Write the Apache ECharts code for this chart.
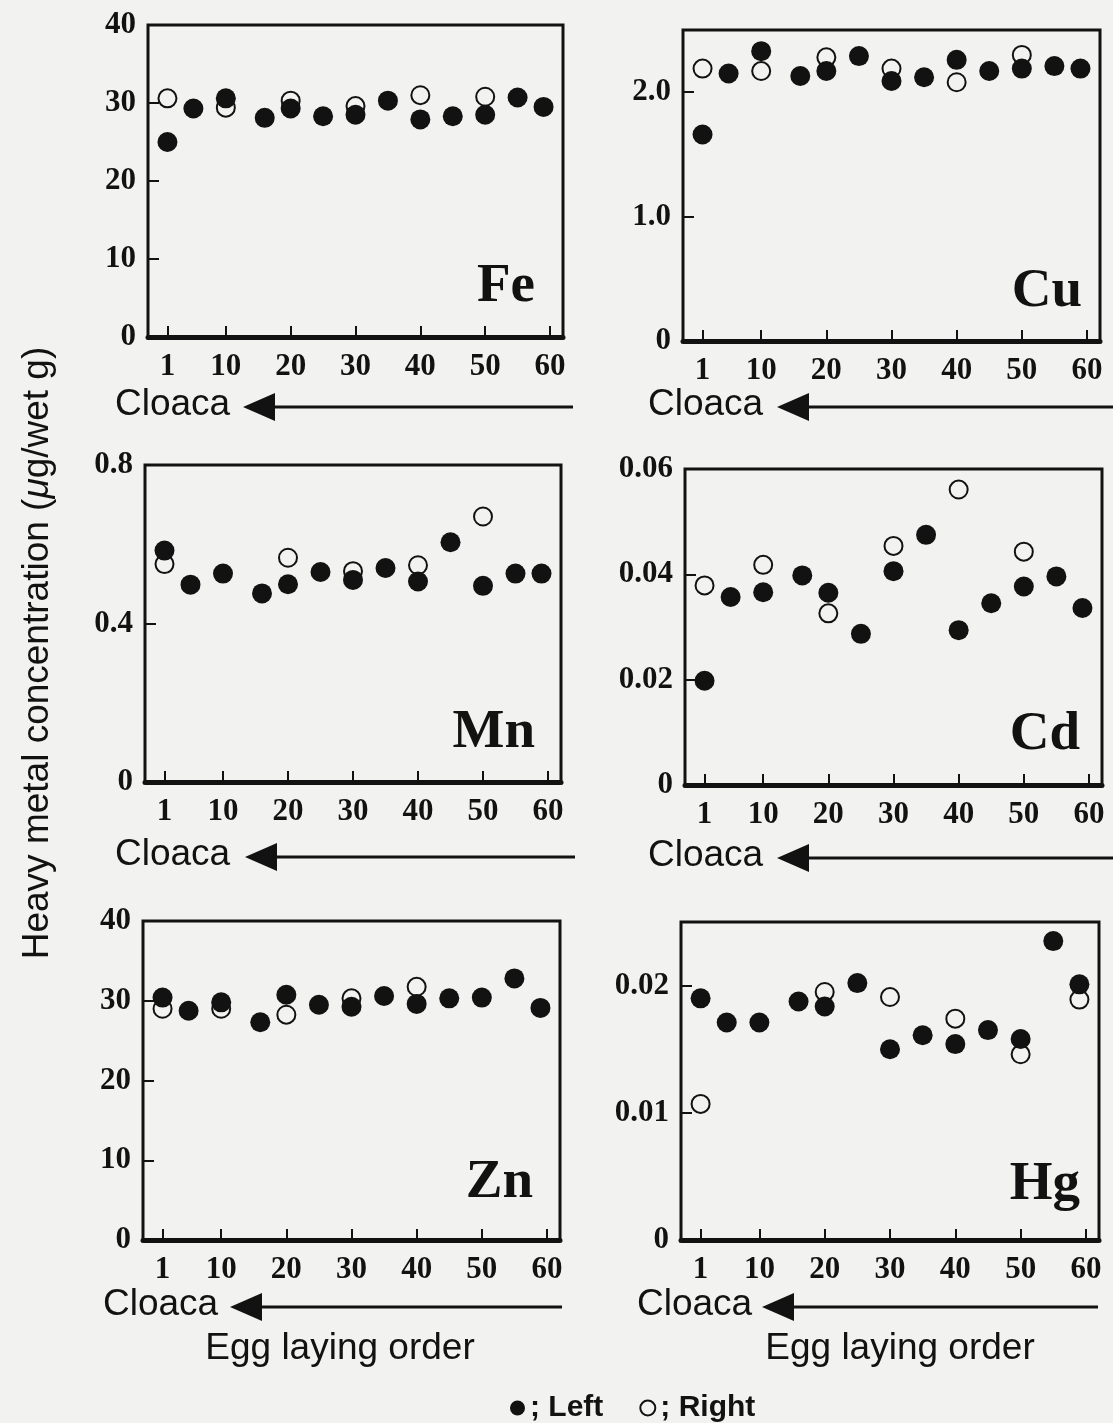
<!DOCTYPE html>
<html>
<head>
<meta charset="utf-8">
<script src="https://cdn.jsdelivr.net/npm/echarts@6/dist/echarts.min.js"></script>
<style>
  html, body { margin: 0; padding: 0; background: #f2f2f0; }
  #chart { width: 1113px; height: 1423px; }
</style>
</head>
<body>
<div id="chart"></div>
<script>
// egg laying order (x) of sampled eggs
var LEFT_X = [1, 5, 10, 16, 20, 25, 30, 35, 40, 45, 50, 55, 59];
var RIGHT_X = [1, 10, 20, 30, 40, 50, 59];
var X_TICKS = [1, 10, 20, 30, 40, 50, 60];

// concentrations, ug/wet g  (null = no right-oviduct egg there)
var FE_LEFT = [25.0, 29.3, 30.6, 28.1, 29.3, 28.3, 28.5, 30.3, 27.9, 28.3, 28.5, 30.7, 29.5];
var FE_RIGHT = [30.6, 29.4, 30.3, 29.6, 31.0, 30.8, null];
var CU_LEFT = [1.66, 2.15, 2.33, 2.13, 2.17, 2.29, 2.09, 2.12, 2.26, 2.17, 2.19, 2.21, 2.19];
var CU_RIGHT = [2.19, 2.17, 2.28, 2.19, 2.08, 2.30, null];
var MN_LEFT = [0.584, 0.498, 0.526, 0.476, 0.499, 0.530, 0.510, 0.540, 0.506, 0.605, 0.495, 0.526, 0.526];
var MN_RIGHT = [0.550, null, 0.566, 0.532, 0.547, 0.670, null];
var CD_LEFT = [0.0198, 0.0357, 0.0366, 0.0398, 0.0365, 0.0287, 0.0406, 0.0475, 0.0294, 0.0345, 0.0377, 0.0396, 0.0336];
var CD_RIGHT = [0.0379, 0.0418, 0.0326, 0.0454, 0.0561, 0.0443, null];
var ZN_LEFT = [30.4, 28.75, 29.8, 27.3, 30.75, 29.5, 29.25, 30.6, 29.6, 30.3, 30.4, 32.8, 29.1];
var ZN_RIGHT = [29.0, 29.0, 28.25, 30.3, 31.75, null, null];
var HG_LEFT = [0.0190, 0.0171, 0.0171, 0.01875, 0.01836, 0.0202, 0.0150, 0.0161, 0.0154, 0.0165, 0.0158, 0.0235, 0.0201];
var HG_RIGHT = [0.0107, null, 0.0195, 0.0191, 0.0174, 0.0146, 0.0189];

// y tick labels per metal
var FE_TICKS = [0, 10, 20, 30, 40];
var CU_TICKS = [0, 1, 2];
var MN_TICKS = [0, 0.4, 0.8];
var CD_TICKS = [0, 0.02, 0.04, 0.06];
var ZN_TICKS = [0, 10, 20, 30, 40];
var HG_TICKS = [0, 0.01, 0.02];

var METALS = ['Fe', 'Cu', 'Mn', 'Cd', 'Zn', 'Hg'];
var Y_MAX = [40, 2.5, 0.8, 0.06, 40, 0.025];
var Y_DECIMALS = [0, 1, 1, 2, 0, 2];

(function () {
  var INK = '#121212';
  var BG = '#f2f2f0';
  var SERIF = '"Liberation Serif", "Times New Roman", serif';
  var SANS = '"Liberation Sans", Arial, sans-serif';

  var PANELS = [
    { left: FE_LEFT, right: FE_RIGHT, ticks: FE_TICKS },
    { left: CU_LEFT, right: CU_RIGHT, ticks: CU_TICKS },
    { left: MN_LEFT, right: MN_RIGHT, ticks: MN_TICKS },
    { left: CD_LEFT, right: CD_RIGHT, ticks: CD_TICKS },
    { left: ZN_LEFT, right: ZN_RIGHT, ticks: ZN_TICKS },
    { left: HG_LEFT, right: HG_RIGHT, ticks: HG_TICKS }
  ];

  // page layout of each small plot (pixels)
  var LAYOUT = [
    { grid: { left: 148, top: 25, width: 415, height: 312 }, titleX: 535, titleY: 287, cloacaX: 115, tipX: 243, endX: 573, arrowY: 407 },
    { grid: { left: 683, top: 30, width: 417, height: 311 }, titleX: 1082, titleY: 292, cloacaX: 648, tipX: 777, endX: 1113, arrowY: 407 },
    { grid: { left: 145, top: 465, width: 416, height: 317 }, titleX: 535, titleY: 733, cloacaX: 115, tipX: 245, endX: 575, arrowY: 857 },
    { grid: { left: 685, top: 469, width: 417, height: 316 }, titleX: 1080, titleY: 735, cloacaX: 648, tipX: 777, endX: 1113, arrowY: 858 },
    { grid: { left: 143, top: 921, width: 417, height: 319 }, titleX: 533, titleY: 1183, cloacaX: 103, tipX: 230, endX: 562, arrowY: 1307 },
    { grid: { left: 681, top: 922, width: 418, height: 318 }, titleX: 1080, titleY: 1185, cloacaX: 637, tipX: 762, endX: 1098, arrowY: 1307 }
  ];

  function pairs(xs, ys) {
    var out = [];
    xs.forEach(function (x, i) {
      if (ys[i] !== null && ys[i] !== undefined) out.push([x, ys[i]]);
    });
    return out;
  }

  var grids = [], xAxes = [], yAxes = [], series = [], graphics = [];

  PANELS.forEach(function (p, i) {
    var lay = LAYOUT[i];
    grids.push(Object.assign({
      show: true,
      borderColor: INK,
      borderWidth: 3,
      backgroundColor: 'transparent'
    }, lay.grid));

    xAxes.push({
      type: 'value',
      gridIndex: i,
      min: -2,
      max: 62,
      splitLine: { show: false },
      axisLine: { show: true, onZero: false, lineStyle: { color: INK, width: 5 } },
      axisTick: {
        show: true, inside: true, length: 11, customValues: X_TICKS,
        lineStyle: { color: INK, width: 2 }
      },
      axisLabel: {
        customValues: X_TICKS,
        margin: 14,
        color: INK,
        fontFamily: SERIF,
        fontWeight: 'bold',
        fontSize: 31
      }
    });

    var dec = Y_DECIMALS[i];
    yAxes.push({
      type: 'value',
      gridIndex: i,
      min: 0,
      max: Y_MAX[i],
      splitLine: { show: false },
      axisLine: { show: false, onZero: false },
      axisTick: {
        show: true, inside: true, length: 11, customValues: p.ticks,
        lineStyle: { color: INK, width: 2 }
      },
      axisLabel: {
        customValues: p.ticks,
        margin: 12,
        color: INK,
        fontFamily: SERIF,
        fontWeight: 'bold',
        fontSize: 31,
        formatter: function (v) { return v === 0 ? '0' : Number(v).toFixed(dec); }
      }
    });

    // right oviduct first so the filled markers sit on top
    series.push({
      name: 'Right',
      type: 'scatter',
      xAxisIndex: i,
      yAxisIndex: i,
      symbol: 'circle',
      symbolSize: 18,
      itemStyle: { color: 'rgba(255,255,255,0)', borderColor: INK, borderWidth: 2, opacity: 1 },
      data: pairs(RIGHT_X, p.right)
    });
    series.push({
      name: 'Left',
      type: 'scatter',
      xAxisIndex: i,
      yAxisIndex: i,
      symbol: 'circle',
      symbolSize: 20,
      itemStyle: { color: INK, opacity: 1 },
      data: pairs(LEFT_X, p.left)
    });

    graphics.push({
      type: 'text',
      x: lay.titleX,
      y: lay.titleY,
      style: {
        text: METALS[i],
        fill: INK,
        font: 'bold 55px ' + SERIF,
        align: 'right',
        verticalAlign: 'middle'
      }
    });
    graphics.push({
      type: 'text',
      x: lay.cloacaX,
      y: lay.arrowY - 2,
      style: {
        text: 'Cloaca',
        fill: INK,
        font: '37px ' + SANS,
        align: 'left',
        verticalAlign: 'middle'
      }
    });
    graphics.push({
      type: 'line',
      shape: { x1: lay.tipX + 28, y1: lay.arrowY, x2: lay.endX, y2: lay.arrowY },
      style: { stroke: INK, lineWidth: 3 }
    });
    graphics.push({
      type: 'polygon',
      shape: {
        points: [[lay.tipX, lay.arrowY], [lay.tipX + 32, lay.arrowY - 14], [lay.tipX + 32, lay.arrowY + 14]]
      },
      style: { fill: INK }
    });
  });

  graphics.push({
    type: 'text',
    x: 38,
    y: 653,
    rotation: Math.PI / 2,
    style: {
      text: 'Heavy metal concentration ({i|μ}g/wet g)',
      fill: INK,
      font: '37px ' + SANS,
      align: 'center',
      verticalAlign: 'middle',
      rich: { i: { font: 'italic 37px ' + SANS, fill: INK } }
    }
  });
  [340, 900].forEach(function (cx) {
    graphics.push({
      type: 'text',
      x: cx,
      y: 1349,
      style: {
        text: 'Egg laying order',
        fill: INK,
        font: '37px ' + SANS,
        align: 'center',
        verticalAlign: 'middle'
      }
    });
  });

  var chart = echarts.init(document.getElementById('chart'), null, { renderer: 'canvas' });
  chart.setOption({
    backgroundColor: BG,
    animation: false,
    grid: grids,
    xAxis: xAxes,
    yAxis: yAxes,
    legend: {
      data: ['Left', 'Right'],
      left: 505,
      top: 1388,
      itemGap: 36,
      itemWidth: 15,
      itemHeight: 15,
      icon: 'circle',
      selectedMode: false,
      formatter: function (name) { return '; ' + name; },
      textStyle: { color: INK, fontFamily: SANS, fontWeight: 'bold', fontSize: 30 }
    },
    series: series,
    graphic: graphics
  });
})();
</script>
</body>
</html>
